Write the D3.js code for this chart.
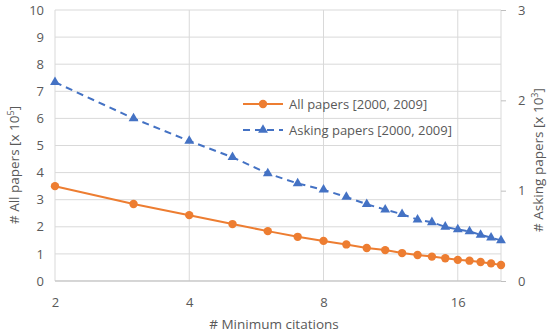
<!DOCTYPE html>
<html><head><meta charset="utf-8">
<script src="https://cdn.jsdelivr.net/npm/d3@7"></script>
<style>body{margin:0;background:#fff}svg{display:block}text{font-family:"Open Sans","Noto Sans",sans-serif;fill:#595959}</style>
</head><body><svg id="c" width="550" height="336"></svg>
<script>
const citations = [2,3,4,5,6,7,8,9,10,11,12,13,14,15,16,17,18,19,20];
const allPapers = [3.5,2.84,2.43,2.10,1.84,1.63,1.48,1.35,1.22,1.14,1.03,0.96,0.90,0.84,0.78,0.75,0.70,0.65,0.59];
const askingPapers = [2.2,1.80,1.55,1.37,1.19,1.08,1.01,0.93,0.85,0.79,0.74,0.68,0.65,0.60,0.57,0.55,0.51,0.48,0.45];
const xTicks = [2,4,8,16];
const leftTicks = [0,1,2,3,4,5,6,7,8,9,10];
const rightTicks = [0,1,2,3];
const seriesNames = ["All papers [2000, 2009]","Asking papers [2000, 2009]"];

const svg = d3.select("#c");
const L=55,R=501,T=10,B=281;
const x = d3.scaleLog().base(2).domain([2,20]).range([L,R]);
const yL = d3.scaleLinear().domain([0,10]).range([B,T]);
const yR = d3.scaleLinear().domain([0,3]).range([B,T]);
const orange="#ED7D31", blue="#4472C4", grid="#d9d9d9";

// gridlines
svg.append("g").selectAll("line").data(leftTicks).join("line")
  .attr("x1",L).attr("x2",R).attr("y1",d=>yL(d)).attr("y2",d=>yL(d))
  .attr("stroke",grid).attr("stroke-width",1);
svg.append("g").selectAll("line").data(xTicks).join("line")
  .attr("x1",d=>x(d)).attr("x2",d=>x(d)).attr("y1",T).attr("y2",B)
  .attr("stroke",grid).attr("stroke-width",1);
// axis lines
svg.append("line").attr("x1",L).attr("x2",R).attr("y1",B).attr("y2",B).attr("stroke","#bfbfbf");
svg.append("line").attr("x1",R).attr("x2",R).attr("y1",T).attr("y2",B).attr("stroke",grid);

// axes
const axL = svg.append("g").attr("transform",`translate(${L-8},0)`)
  .call(d3.axisLeft(yL).tickValues(leftTicks).tickSize(0).tickFormat(d3.format("d")));
const axR = svg.append("g").attr("transform",`translate(${R},0)`)
  .call(d3.axisRight(yR).tickValues(rightTicks).tickSize(5).tickPadding(12).tickFormat(d3.format("d")));
const axB = svg.append("g").attr("transform",`translate(0,${B+14})`)
  .call(d3.axisBottom(x).tickValues(xTicks).tickSize(0).tickFormat(d3.format("d")));
[axL,axR,axB].forEach(a=>{a.select(".domain").remove();a.selectAll("text").attr("font-size",13).style("fill","#595959");});
axR.selectAll("line").attr("stroke","#bfbfbf");

// lines
const lineA = d3.line().x((d,i)=>x(citations[i])).y(d=>yL(d));
const lineB = d3.line().x((d,i)=>x(citations[i])).y(d=>yR(d));
svg.append("path").datum(askingPapers).attr("d",lineB).attr("fill","none")
  .attr("stroke",blue).attr("stroke-width",2).attr("stroke-dasharray","7,5");
svg.append("path").datum(allPapers).attr("d",lineA).attr("fill","none")
  .attr("stroke",orange).attr("stroke-width",2);
const tri = d3.symbol().type(d3.symbolTriangle).size(42);
svg.append("g").selectAll("path").data(askingPapers).join("path")
  .attr("d",tri).attr("fill",blue)
  .attr("transform",(d,i)=>`translate(${x(citations[i])},${yR(d)})`);
svg.append("g").selectAll("circle").data(allPapers).join("circle")
  .attr("cx",(d,i)=>x(citations[i])).attr("cy",d=>yL(d)).attr("r",4.2).attr("fill",orange);

// legend
const lg = svg.append("g");
lg.append("line").attr("x1",243).attr("x2",283).attr("y1",104).attr("y2",104).attr("stroke",orange).attr("stroke-width",2);
lg.append("circle").attr("cx",263).attr("cy",104).attr("r",4.2).attr("fill",orange);
lg.append("text").attr("x",289).attr("y",108.5).attr("font-size",13).text(seriesNames[0]);
lg.append("line").attr("x1",243).attr("x2",283).attr("y1",130).attr("y2",130).attr("stroke",blue).attr("stroke-width",2).attr("stroke-dasharray","7,5");
lg.append("path").attr("d",tri).attr("fill",blue).attr("transform","translate(263,130)");
lg.append("text").attr("x",289).attr("y",134.5).attr("font-size",13).text(seriesNames[1]);

// titles
svg.append("text").attr("x",274).attr("y",329).attr("text-anchor","middle").attr("font-size",13.5).text("# Minimum citations");
const tl = svg.append("text").attr("transform","translate(19,165) rotate(-90)").attr("text-anchor","middle").attr("font-size",13.5);
tl.append("tspan").text("# All papers [x 10");
tl.append("tspan").attr("dy",-5).attr("font-size",9).text("5");
tl.append("tspan").attr("dy",5).text("]");
const tr = svg.append("text").attr("transform","translate(543,160) rotate(-90)").attr("text-anchor","middle").attr("font-size",13.5);
tr.append("tspan").text("# Asking papers [x 10");
tr.append("tspan").attr("dy",-5).attr("font-size",9).text("3");
tr.append("tspan").attr("dy",5).text("]");
</script></body></html>
